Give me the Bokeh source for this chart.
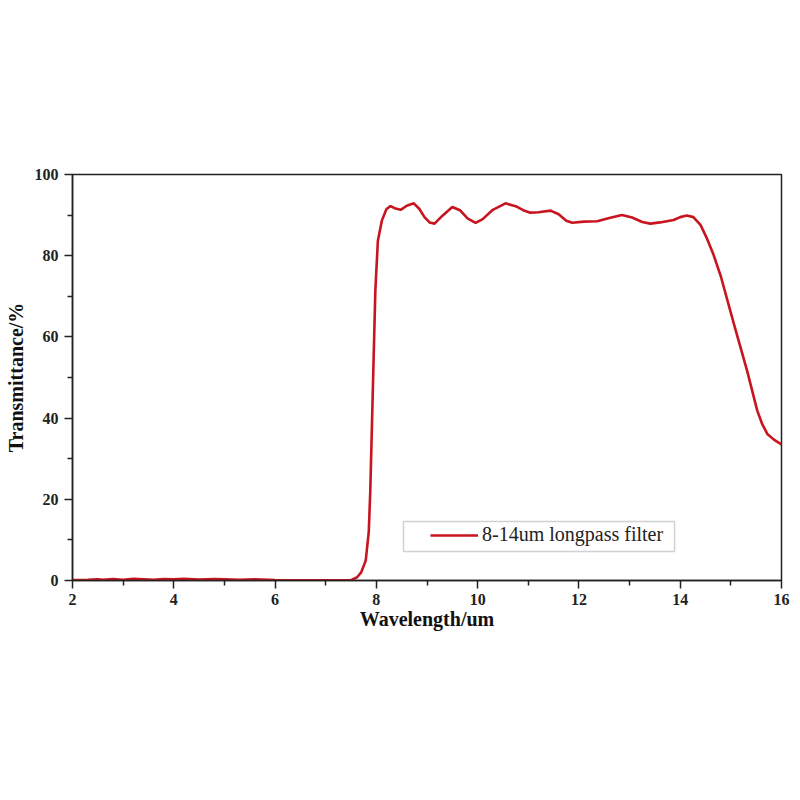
from bokeh.plotting import figure
from bokeh.models import Range1d, Legend, LegendItem, BoxAnnotation, FixedTicker
from bokeh.embed import file_html
from bokeh.resources import INLINE

wavelength = [2.0, 2.3, 2.5, 2.6, 2.8, 3.0, 3.2, 3.4, 3.6, 3.8, 4.0, 4.2, 4.5, 4.8, 5.0,
              5.3, 5.6, 6.0, 6.5, 7.0, 7.5, 7.62, 7.7, 7.79, 7.85, 7.88, 7.93, 7.98, 8.03,
              8.11, 8.2, 8.28, 8.38, 8.48, 8.6, 8.74, 8.85, 8.95, 9.05, 9.15, 9.3, 9.5,
              9.65, 9.8, 9.96, 10.1, 10.3, 10.55, 10.75, 10.9, 11.04, 11.2, 11.44, 11.6,
              11.75, 11.87, 12.1, 12.36, 12.6, 12.85, 13.05, 13.25, 13.41, 13.6, 13.87,
              14.0, 14.13, 14.26, 14.4, 14.53, 14.65, 14.8, 15.06, 15.32, 15.52, 15.62,
              15.72, 15.85, 16.0]
transmittance = [0.1, 0.15, 0.3, 0.2, 0.35, 0.2, 0.4, 0.3, 0.2, 0.35, 0.3, 0.4, 0.25, 0.35, 0.3,
                 0.2, 0.3, 0.1, 0.05, 0.05, 0.1, 0.8, 2.0, 4.9, 12.0, 22.0, 46.8, 71.4, 83.7,
                 88.7, 91.5, 92.2, 91.6, 91.3, 92.3, 92.9, 91.5, 89.5, 88.2, 87.9, 89.8, 92.0,
                 91.2, 89.2, 88.1, 89.0, 91.3, 92.9, 92.2, 91.2, 90.6, 90.7, 91.1, 90.2,
                 88.6, 88.1, 88.4, 88.5, 89.3, 90.0, 89.4, 88.3, 87.9, 88.2, 88.8,
                 89.5, 89.9, 89.5, 87.6, 84.2, 80.5, 75.0, 63.2, 51.7, 41.9, 38.5,
                 36.1, 34.7, 33.5]
series_name = "8-14um longpass filter"
x_ticks = [2, 4, 6, 8, 10, 12, 14, 16]
x_minor = [3, 5, 7, 9, 11, 13, 15]
y_ticks = [0, 20, 40, 60, 80, 100]
y_minor = [10, 30, 50, 70, 90]

FONT = "Liberation Serif"

p = figure(width=798, height=788, output_backend="svg", toolbar_location=None,
           x_range=Range1d(2, 16), y_range=Range1d(0, 100),
           min_border_left=72, min_border_right=17, min_border_top=174, min_border_bottom=208)
p.grid.visible = False
p.outline_line_color = "#222222"
p.outline_line_width = 1.5
p.background_fill_color = "white"
p.border_fill_color = "white"

line = p.line(wavelength, transmittance, line_color="#c8141e", line_width=2.6)

for ax in (p.xaxis[0], p.yaxis[0]):
    ax.axis_line_color = "#222222"
    ax.axis_line_width = 1.5
    ax.major_tick_line_color = "#222222"
    ax.minor_tick_line_color = "#222222"
    ax.major_tick_line_width = 1.5
    ax.minor_tick_line_width = 1.5
    ax.major_tick_out = 8
    ax.major_tick_in = 0
    ax.minor_tick_out = 5
    ax.minor_tick_in = 0
    ax.major_label_text_font = FONT
    ax.major_label_text_font_style = "bold"
    ax.major_label_text_font_size = "16px"
    ax.major_label_text_color = "#222222"
    ax.axis_label_text_font = FONT
    ax.axis_label_text_font_style = "bold"
    ax.axis_label_text_font_size = "20px"
    ax.axis_label_text_color = "#111111"

p.xaxis[0].ticker = FixedTicker(ticks=x_ticks, minor_ticks=x_minor)
p.yaxis[0].ticker = FixedTicker(ticks=y_ticks, minor_ticks=y_minor)
p.xaxis[0].axis_label = "Wavelength/um"
p.yaxis[0].axis_label = "Transmittance/%"
p.xaxis[0].major_label_standoff = 5
p.xaxis[0].axis_label_standoff = 0
p.yaxis[0].major_label_standoff = 6
p.yaxis[0].axis_label_standoff = 5

box = BoxAnnotation(left=8.536, right=13.888, bottom=7.14, top=14.53,
                    fill_color="white", fill_alpha=1.0,
                    line_color="#666666", line_width=1.5)
p.add_layout(box)

legend = Legend(items=[LegendItem(label=series_name, renderers=[line])],
                location=(353, 29), margin=0, padding=5,
                border_line_alpha=0, background_fill_alpha=0,
                label_text_font=FONT, label_text_font_size="20px",
                label_text_color="#222222", glyph_width=48, label_standoff=4)
p.add_layout(legend, "center")

open("out.html", "w").write(file_html(p, INLINE))
